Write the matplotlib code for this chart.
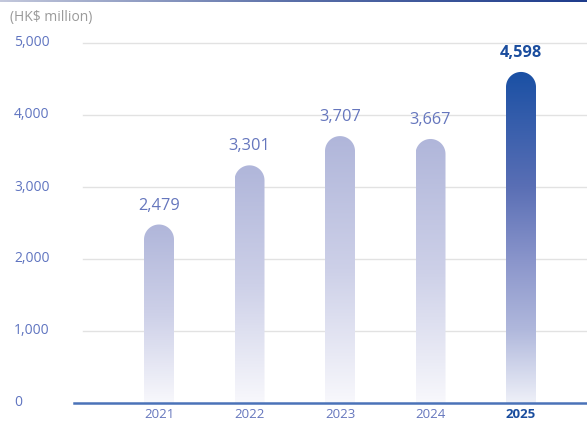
import numpy as np
import matplotlib
matplotlib.use("Agg")
import matplotlib.pyplot as plt
from matplotlib.path import Path
from matplotlib.patches import PathPatch
from matplotlib.colors import LinearSegmentedColormap

plt.rcParams['font.family'] = ['Open Sans', 'Noto Sans', 'DejaVu Sans']

years = ['2021', '2022', '2023', '2024', '2025']
values = [2479, 3301, 3707, 3667, 4598]
value_labels = ['2,479', '3,301', '3,707', '3,667', '4,598']
yticks = [0, 1000, 2000, 3000, 4000, 5000]
ytick_labels = ['0', '1,000', '2,000', '3,000', '4,000', '5,000']

W, H = 587, 421
fig = plt.figure(figsize=(W / 100, H / 100), dpi=100)

# axes in pixel terms
ax_l, ax_r, ax_top, ax_bot = 74, 587, 30, 403
ax = fig.add_axes([ax_l / W, (H - ax_bot) / H, (ax_r - ax_l) / W, (ax_bot - ax_top) / H])

step_px = 90.5
first_px = 159
xmin = (ax_l - first_px) / step_px
xmax = (ax_r - first_px) / step_px
ymax = (ax_bot - ax_top) / 0.072
ax.set_xlim(xmin, xmax)
ax.set_ylim(0, ymax)
ax.axis('off')

# gridlines
grid_start = (83 - ax_l) / (ax_r - ax_l)
for t in yticks[1:]:
    ax.axhline(t, xmin=grid_start, xmax=1, color='#e2e2e2', lw=1.0, zorder=0)
ax.axhline(0, color='#4a72b8', lw=1.8, zorder=5, clip_on=False)

light = LinearSegmentedColormap.from_list('light', [
    (0.0, '#f8f8fc'), (0.5, '#cdd0e8'), (1.0, '#b0b6da')])
dark = LinearSegmentedColormap.from_list('dark', [
    (0.0, '#eef0f8'), (0.22, '#b0b8dc'), (0.43, '#8a95cb'),
    (0.65, '#5a6fb5'), (1.0, '#1a50a4')])

bar_w = 30 / step_px
rx = bar_w / 2
ry = 15 / 0.072
grad = np.linspace(0, 1, 256).reshape(-1, 1)

for i, v in enumerate(values):
    x0, x1 = i - rx, i + rx
    theta = np.linspace(np.pi, 0, 40)
    arc_x = i + rx * np.cos(theta)
    arc_y = v - ry + ry * np.sin(theta)
    xs = np.concatenate([[x0], arc_x, [x1, x0]])
    ys = np.concatenate([[0], arc_y, [0, 0]])
    patch = PathPatch(Path(np.column_stack([xs, ys])), facecolor='none', edgecolor='none')
    ax.add_patch(patch)
    cmap = dark if i == len(values) - 1 else light
    im = ax.imshow(grad, cmap=cmap, origin='lower', aspect='auto',
                   extent=[x0, x1, 0, v], zorder=2, interpolation='bilinear')
    im.set_clip_path(patch)

    last = i == len(values) - 1
    ax.text(i, v + 19 / 0.072, value_labels[i], ha='center', va='center',
            fontsize=11.8, color='#1a4d9e' if last else '#6576bd',
            fontweight='bold' if last else 'normal')
    ax.text(i, -11 / 0.072, years[i], ha='center', va='center', fontsize=9.5,
            color='#1a4d9e' if last else '#6576bd',
            fontweight='bold' if last else 'normal', clip_on=False)

for t, lab in zip(yticks, ytick_labels):
    fig.text(14 / W, 1 - (ax_bot - t * 0.072) / H, lab, ha='left', va='center',
             fontsize=10, color='#5f74c0')

fig.text(10 / W, 1 - 17 / H, '(HK$ million)', ha='left', va='center',
         fontsize=10, color='#9a9a9a')

# gradient line along the top edge
top = fig.add_axes([0, 1 - 2.5 / H, 1, 2.5 / H])
top.imshow(np.linspace(0, 1, 256).reshape(1, -1), aspect='auto',
           cmap=LinearSegmentedColormap.from_list('top', ['#c3c8dc', '#5a6fa8', '#1e3c8c']))
top.axis('off')

fig.savefig('out.png', dpi=100)
